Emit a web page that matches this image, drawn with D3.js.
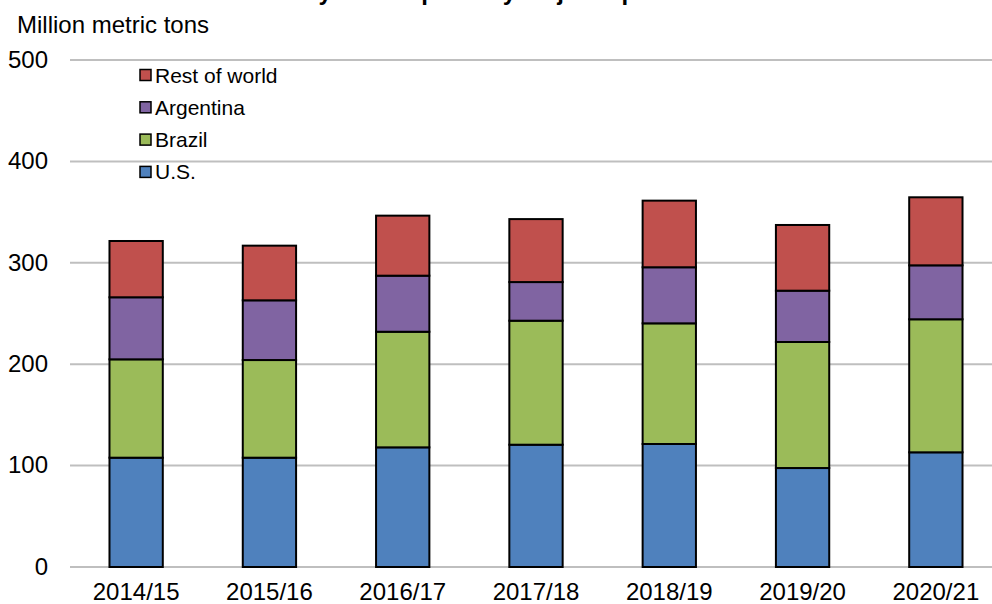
<!DOCTYPE html>
<html>
<head>
<meta charset="utf-8">
<script src="https://cdn.jsdelivr.net/npm/d3@7"></script>
<style>
html,body{margin:0;padding:0;background:#fff;overflow:hidden;}
svg{display:block;font-family:Arial,"Liberation Sans",sans-serif;}
</style>
</head>
<body>
<svg id="chart" width="992" height="604"></svg>
<script>
const title = "Soybean exports by major exporters";
const unitLabel = "Million metric tons";
const years = ["2014/15","2015/16","2016/17","2017/18","2018/19","2019/20","2020/21"];
const seriesNames = ["U.S.","Brazil","Argentina","Rest of world"];
const us        = [107.8, 107.8, 118.0, 120.6, 121.3, 97.6, 113.1];
const brazil    = [97.0, 96.3, 114.0, 122.3, 119.0, 124.3, 131.2];
const argentina = [61.2, 58.9, 55.3, 38.1, 55.3, 50.6, 53.2];
const restWorld = [55.5, 53.9, 59.2, 62.1, 65.7, 64.8, 67.1];
const yTicks = [0,100,200,300,400,500];
const colors = ["#4f81bd","#9bbb59","#8064a2","#c0504d"];

const svg = d3.select("#chart");
const values = [us, brazil, argentina, restWorld];
const rows = years.map((y,i)=>{const r={year:y}; seriesNames.forEach((s,j)=>r[s]=values[j][i]); return r;});
const stacked = d3.stack().keys(seriesNames)(rows);

const x = d3.scaleBand().domain(years).range([69.5,1002.5]).paddingInner(0.6).paddingOuter(0.3);
const y = d3.scaleLinear().domain([0,500]).range([567,60]);

// title (clipped at top in reference: only descenders show)
svg.append("text").attr("x",496).attr("y",0).attr("text-anchor","middle")
  .attr("font-size",24).attr("font-weight","bold").text(title);

svg.append("text").attr("x",17).attr("y",33).attr("font-size",24).attr("fill","#000").text(unitLabel);

// gridlines
svg.append("g").selectAll("line").data(yTicks).join("line")
  .attr("x1",70).attr("x2",1002).attr("y1",d=>y(d)).attr("y2",d=>y(d))
  .attr("stroke","#bfbfbf").attr("stroke-width",2);

// y axis labels
const yAxis = d3.axisLeft(y).tickValues(yTicks).tickSize(0).tickPadding(0);
const ya = svg.append("g").attr("transform","translate(48,0)").call(yAxis);
ya.select(".domain").remove();
ya.selectAll("text").attr("font-size",24).attr("fill","#000").attr("font-family","Arial,'Liberation Sans',sans-serif").attr("dy","0.3em");

// x axis labels
const xAxis = d3.axisBottom(x).tickSize(0).tickPadding(0);
const xa = svg.append("g").attr("transform","translate(0,600)").call(xAxis);
xa.select(".domain").remove();
xa.selectAll("text").attr("font-size",24).attr("fill","#000").attr("font-family","Arial,'Liberation Sans',sans-serif").attr("y",0).attr("dy","0");

// bars
svg.append("g").selectAll("g").data(stacked).join("g")
  .attr("fill",(d,i)=>colors[i])
  .selectAll("rect").data(d=>d).join("rect")
  .attr("x",d=>x(d.data.year)).attr("width",x.bandwidth())
  .attr("y",d=>y(d[1])).attr("height",d=>y(d[0])-y(d[1]))
  .attr("stroke","#000").attr("stroke-width",2);

// legend
const legendOrder = [3,2,1,0];
const lg = svg.append("g");
legendOrder.forEach((si,k)=>{
  const cy = 75 + k*32.3;
  lg.append("rect").attr("x",140).attr("y",cy-5.5).attr("width",11).attr("height",11)
    .attr("fill",colors[si]).attr("stroke","#000").attr("stroke-width",1.5);
  lg.append("text").attr("x",155).attr("y",cy).attr("dy","0.36em").attr("font-size",21).attr("fill","#000").text(seriesNames[si]);
});
</script>
</body>
</html>
